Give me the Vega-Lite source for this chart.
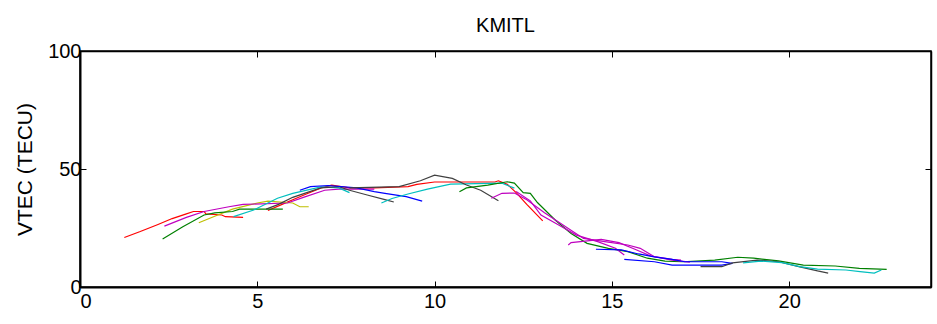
{
  "$schema": "https://vega.github.io/schema/vega-lite/v6.json",
  "width": 851,
  "height": 236,
  "autosize": "none",
  "padding": {"left": 80, "top": 51, "right": 6, "bottom": 37},
  "background": "white",
  "title": {"text": "KMITL", "font": "Liberation Sans", "fontSize": 20, "fontWeight": "normal", "color": "black", "offset": 5},
  "config": {
    "view": {"stroke": "black", "strokeWidth": 1.5},
    "axis": {"domainColor": "black", "domainWidth": 2, "tickColor": "black", "labelColor": "black", "titleColor": "black", "grid": false, "labelFont": "Liberation Sans", "labelFontSize": 20, "titleFont": "Liberation Sans", "titleFontSize": 21, "titleFontWeight": "normal"}
  },
  "data": {"values": [
    {"s":"R1","c":"red","x":1.25,"y":21},{"s":"R1","c":"red","x":1.7,"y":23.5},{"s":"R1","c":"red","x":2.2,"y":26.5},{"s":"R1","c":"red","x":2.6,"y":29},{"s":"R1","c":"red","x":3.0,"y":31},{"s":"R1","c":"red","x":3.2,"y":32},{"s":"R1","c":"red","x":3.5,"y":32},{"s":"R1","c":"red","x":3.55,"y":31},{"s":"R1","c":"red","x":4.0,"y":30.5},{"s":"R1","c":"red","x":4.1,"y":29.8},{"s":"R1","c":"red","x":4.6,"y":29.5},
    {"s":"R2","c":"red","x":5.3,"y":32.4},{"s":"R2","c":"red","x":5.7,"y":35},{"s":"R2","c":"red","x":6.0,"y":37},{"s":"R2","c":"red","x":6.4,"y":39.5},{"s":"R2","c":"red","x":6.8,"y":42},{"s":"R2","c":"red","x":7.1,"y":43.2},{"s":"R2","c":"red","x":7.6,"y":42},{"s":"R2","c":"red","x":8.3,"y":42},{"s":"R2","c":"red","x":9.25,"y":42.5},{"s":"R2","c":"red","x":9.5,"y":43.5},{"s":"R2","c":"red","x":10.0,"y":44.5},{"s":"R2","c":"red","x":11.0,"y":44.5},{"s":"R2","c":"red","x":11.7,"y":44.5},{"s":"R2","c":"red","x":11.8,"y":45},{"s":"R2","c":"red","x":12.05,"y":43.5},{"s":"R2","c":"red","x":12.3,"y":40},{"s":"R2","c":"red","x":12.6,"y":35},{"s":"R2","c":"red","x":13.05,"y":28},
    {"s":"Y1","c":"yellow","x":3.35,"y":27.2},{"s":"Y1","c":"yellow","x":3.8,"y":30},{"s":"Y1","c":"yellow","x":4.3,"y":33},{"s":"Y1","c":"yellow","x":4.7,"y":34.5},{"s":"Y1","c":"yellow","x":5.0,"y":35.6},{"s":"Y1","c":"yellow","x":5.3,"y":36.4},{"s":"Y1","c":"yellow","x":6.0,"y":35.6},{"s":"Y1","c":"yellow","x":6.2,"y":34},{"s":"Y1","c":"yellow","x":6.45,"y":34},
    {"s":"G1","c":"green","x":2.33,"y":20.3},{"s":"G1","c":"green","x":2.9,"y":25.5},{"s":"G1","c":"green","x":3.5,"y":30.5},{"s":"G1","c":"green","x":3.8,"y":31.4},{"s":"G1","c":"green","x":4.3,"y":32},{"s":"G1","c":"green","x":4.5,"y":33},{"s":"G1","c":"green","x":5.72,"y":33},
    {"s":"M1","c":"magenta","x":2.38,"y":25.8},{"s":"M1","c":"magenta","x":3.0,"y":29.5},{"s":"M1","c":"magenta","x":3.5,"y":32},{"s":"M1","c":"magenta","x":4.2,"y":34},{"s":"M1","c":"magenta","x":4.6,"y":35},{"s":"M1","c":"magenta","x":5.85,"y":35.6},{"s":"M1","c":"magenta","x":6.3,"y":38},{"s":"M1","c":"magenta","x":6.9,"y":41},{"s":"M1","c":"magenta","x":7.3,"y":41.5},{"s":"M1","c":"magenta","x":8.3,"y":41.5},
    {"s":"C1","c":"cyan","x":4.33,"y":29.8},{"s":"C1","c":"cyan","x":4.9,"y":32.6},{"s":"C1","c":"cyan","x":5.57,"y":37.6},{"s":"C1","c":"cyan","x":6.0,"y":39.7},{"s":"C1","c":"cyan","x":6.8,"y":42.4},{"s":"C1","c":"cyan","x":7.3,"y":42},{"s":"C1","c":"cyan","x":7.6,"y":40},
    {"s":"K1","c":"black","x":5.25,"y":33},{"s":"K1","c":"black","x":5.6,"y":35},{"s":"K1","c":"black","x":6.0,"y":38},{"s":"K1","c":"black","x":6.5,"y":40.5},{"s":"K1","c":"black","x":6.8,"y":42},{"s":"K1","c":"black","x":7.3,"y":42.5},{"s":"K1","c":"black","x":7.6,"y":41},{"s":"K1","c":"black","x":8.1,"y":39},{"s":"K1","c":"black","x":8.6,"y":37},{"s":"K1","c":"black","x":8.85,"y":36},
    {"s":"B1","c":"blue","x":6.2,"y":41},{"s":"B1","c":"blue","x":6.5,"y":42.5},{"s":"B1","c":"blue","x":7.0,"y":43},{"s":"B1","c":"blue","x":7.8,"y":42},{"s":"B1","c":"blue","x":8.3,"y":40.4},{"s":"B1","c":"blue","x":8.6,"y":39.7},{"s":"B1","c":"blue","x":9.2,"y":38.3},{"s":"B1","c":"blue","x":9.65,"y":36.4},
    {"s":"C2","c":"cyan","x":8.5,"y":35.6},{"s":"C2","c":"cyan","x":8.8,"y":37.5},{"s":"C2","c":"cyan","x":9.25,"y":39.4},{"s":"C2","c":"cyan","x":9.8,"y":41.5},{"s":"C2","c":"cyan","x":10.45,"y":43.6},{"s":"C2","c":"cyan","x":11.9,"y":44},{"s":"C2","c":"cyan","x":12.25,"y":41.9},
    {"s":"K2","c":"black","x":7.6,"y":42},{"s":"K2","c":"black","x":9.0,"y":42.5},{"s":"K2","c":"black","x":9.6,"y":45},{"s":"K2","c":"black","x":10.0,"y":47.4},{"s":"K2","c":"black","x":10.5,"y":46},{"s":"K2","c":"black","x":10.9,"y":43.2},{"s":"K2","c":"black","x":11.3,"y":41},{"s":"K2","c":"black","x":11.8,"y":36.5},
    {"s":"G2","c":"green","x":10.7,"y":40.4},{"s":"G2","c":"green","x":10.9,"y":42},{"s":"G2","c":"green","x":11.5,"y":43.2},{"s":"G2","c":"green","x":12.05,"y":44.6},{"s":"G2","c":"green","x":12.25,"y":44},{"s":"G2","c":"green","x":12.5,"y":40},{"s":"G2","c":"green","x":12.7,"y":39.7},{"s":"G2","c":"green","x":12.9,"y":35.8},{"s":"G2","c":"green","x":13.4,"y":28.4},{"s":"G2","c":"green","x":13.85,"y":22.7},{"s":"G2","c":"green","x":14.3,"y":18.5},{"s":"G2","c":"green","x":14.9,"y":16.4},{"s":"G2","c":"green","x":15.45,"y":15},{"s":"G2","c":"green","x":16.0,"y":12.2},{"s":"G2","c":"green","x":16.5,"y":11},{"s":"G2","c":"green","x":17.0,"y":10.7},{"s":"G2","c":"green","x":17.9,"y":11.4},{"s":"G2","c":"green","x":18.55,"y":12.6},{"s":"G2","c":"green","x":19.0,"y":12.2},{"s":"G2","c":"green","x":19.7,"y":11.1},{"s":"G2","c":"green","x":20.4,"y":9.3},{"s":"G2","c":"green","x":21.3,"y":8.9},{"s":"G2","c":"green","x":21.98,"y":7.9},{"s":"G2","c":"green","x":22.75,"y":7.5},
    {"s":"M2","c":"magenta","x":11.6,"y":37.6},{"s":"M2","c":"magenta","x":11.9,"y":39.7},{"s":"M2","c":"magenta","x":12.25,"y":39.8},{"s":"M2","c":"magenta","x":12.6,"y":37},{"s":"M2","c":"magenta","x":13.1,"y":31.5},{"s":"M2","c":"magenta","x":13.75,"y":25},{"s":"M2","c":"magenta","x":14.2,"y":20.6},{"s":"M2","c":"magenta","x":14.8,"y":19.2},{"s":"M2","c":"magenta","x":15.45,"y":17.8},{"s":"M2","c":"magenta","x":15.8,"y":16.4},{"s":"M2","c":"magenta","x":16.2,"y":12.8},{"s":"M2","c":"magenta","x":16.7,"y":11.4},{"s":"M2","c":"magenta","x":17.2,"y":10.5},
    {"s":"M3","c":"magenta","x":12.3,"y":40.5},{"s":"M3","c":"magenta","x":12.7,"y":36.5},{"s":"M3","c":"magenta","x":13.0,"y":30.5},{"s":"M3","c":"magenta","x":13.5,"y":26.3},{"s":"M3","c":"magenta","x":14.0,"y":22},{"s":"M3","c":"magenta","x":14.6,"y":19.2},{"s":"M3","c":"magenta","x":15.1,"y":16.4},{"s":"M3","c":"magenta","x":15.35,"y":13.6},
    {"s":"M4","c":"magenta","x":13.77,"y":17.8},{"s":"M4","c":"magenta","x":13.85,"y":18.8},{"s":"M4","c":"magenta","x":14.7,"y":20.2},{"s":"M4","c":"magenta","x":15.2,"y":18.8},{"s":"M4","c":"magenta","x":15.65,"y":16},{"s":"M4","c":"magenta","x":16.1,"y":13.1},{"s":"M4","c":"magenta","x":16.7,"y":11.7},{"s":"M4","c":"magenta","x":16.95,"y":11.4},
    {"s":"B2","c":"blue","x":14.55,"y":16},{"s":"B2","c":"blue","x":15.27,"y":15.7},{"s":"B2","c":"blue","x":15.75,"y":14},{"s":"B2","c":"blue","x":16.2,"y":12.8},{"s":"B2","c":"blue","x":16.7,"y":11.7},{"s":"B2","c":"blue","x":17.05,"y":10.7},{"s":"B2","c":"blue","x":18.1,"y":10.7},{"s":"B2","c":"blue","x":18.4,"y":10},
    {"s":"B3","c":"blue","x":15.35,"y":11.7},{"s":"B3","c":"blue","x":16.2,"y":10.7},{"s":"B3","c":"blue","x":16.7,"y":9.3},{"s":"B3","c":"blue","x":18.1,"y":9.3},{"s":"B3","c":"blue","x":18.4,"y":10},
    {"s":"K3","c":"black","x":17.5,"y":8.6},{"s":"K3","c":"black","x":18.1,"y":8.6},{"s":"K3","c":"black","x":18.4,"y":10.2},{"s":"K3","c":"black","x":19.1,"y":11.4},{"s":"K3","c":"black","x":19.7,"y":10.7},{"s":"K3","c":"black","x":20.3,"y":8.5},{"s":"K3","c":"black","x":20.8,"y":6.8},{"s":"K3","c":"black","x":21.1,"y":5.9},
    {"s":"C3","c":"cyan","x":18.7,"y":10.2},{"s":"C3","c":"cyan","x":19.2,"y":11},{"s":"C3","c":"cyan","x":19.8,"y":10.3},{"s":"C3","c":"cyan","x":20.3,"y":8.6},{"s":"C3","c":"cyan","x":20.8,"y":7.6},{"s":"C3","c":"cyan","x":21.6,"y":7.2},{"s":"C3","c":"cyan","x":22.0,"y":6.5},{"s":"C3","c":"cyan","x":22.4,"y":5.9},{"s":"C3","c":"cyan","x":22.6,"y":7.2}
  ]},
  "layer": [
    {
      "mark": {"type": "line", "strokeWidth": 1.2},
      "encoding": {
        "x": {"field": "x", "type": "quantitative", "scale": {"domain": [0, 24], "nice": false, "zero": false}, "axis": {"values": [0, 5, 10, 15, 20], "title": null, "tickSize": -6, "labelPadding": 10, "format": "d"}},
        "y": {"field": "y", "type": "quantitative", "scale": {"domain": [0, 100], "nice": false}, "axis": {"values": [0, 50, 100], "title": "VTEC (TECU)", "tickSize": -6, "labelPadding": 5, "titlePadding": 12, "format": "d"}},
        "color": {"field": "c", "type": "nominal", "scale": {"domain": ["red", "green", "blue", "cyan", "magenta", "yellow", "black"], "range": ["#ff0000", "#008000", "#0000ff", "#00bfbf", "#bf00bf", "#bfbf00", "#404040"]}, "legend": null},
        "detail": {"field": "s"}
      }
    },
    {
      "transform": [{"filter": "datum.x < -100"}],
      "mark": {"type": "line"},
      "encoding": {
        "x": {"field": "x", "type": "quantitative", "axis": {"orient": "top", "values": [0, 5, 10, 15, 20], "labels": false, "title": null, "tickSize": -6, "domainWidth": 1.5}},
        "y": {"field": "y", "type": "quantitative", "axis": {"orient": "right", "values": [0, 50, 100], "labels": false, "title": null, "tickSize": -6, "domainWidth": 1.5}}
      }
    }
  ],
  "resolve": {"axis": {"x": "independent", "y": "independent"}}
}
